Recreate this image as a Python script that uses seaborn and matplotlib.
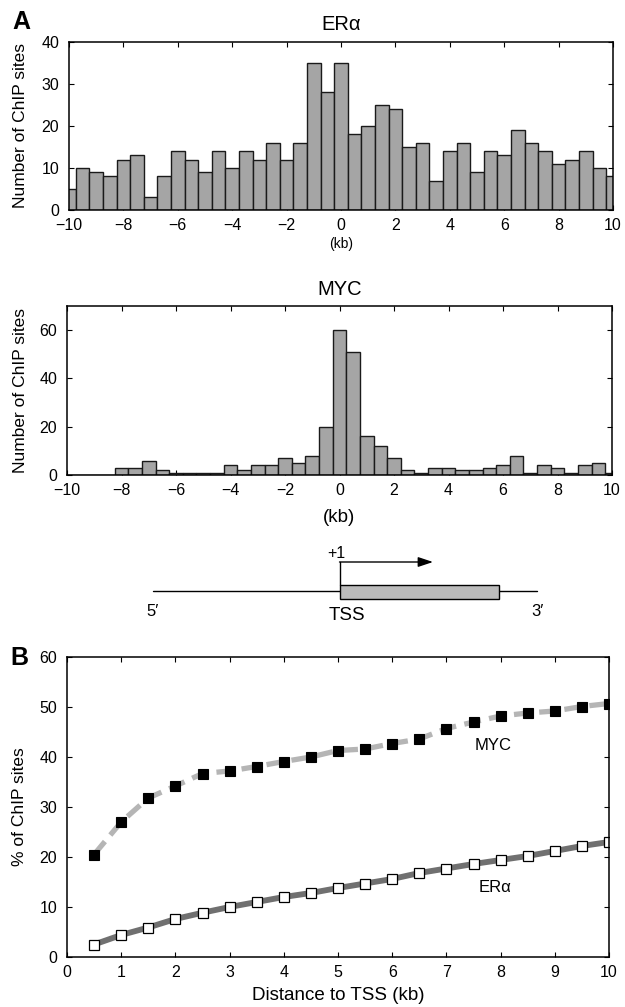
#!/usr/bin/env python3

import numpy as np
import pandas as pd
import seaborn as sns
import matplotlib
matplotlib.use("Agg")
import matplotlib.pyplot as plt
from matplotlib.patches import Rectangle

# histogram bins: 0.5 kb wide, centred on -10 .. 10
bin_centers = np.arange(-10, 10.01, 0.5)
era_counts = [5, 10, 9, 8, 12, 13, 3, 8, 14, 12, 9, 14, 10, 14, 12, 16, 12, 16, 35,
              28, 35, 18, 20, 25, 24, 15, 16, 7, 14, 16, 9, 14, 13, 19, 16, 14, 11,
              12, 14, 10, 8]
myc_counts = [0, 0, 0, 0, 3, 3, 6, 2, 1, 1, 1, 1, 4, 2, 4, 4, 7, 5, 8,
              20, 60, 51, 16, 12, 7, 2, 1, 3, 3, 2, 2, 3, 4, 8, 1, 4, 3,
              1, 4, 5, 1]

# cumulative % of sites within distance of TSS
distance_kb = np.arange(0.5, 10.01, 0.5)
myc_pct = [20.5, 27.0, 31.8, 34.2, 36.7, 37.2, 38.1, 39.1, 40.0, 41.3,
           41.6, 42.7, 43.6, 45.7, 47.0, 48.2, 48.8, 49.2, 50.1, 50.7]
era_pct = [2.5, 4.4, 5.9, 7.6, 8.85, 10.0, 11.0, 12.0, 12.8, 13.8,
           14.7, 15.6, 16.8, 17.7, 18.6, 19.4, 20.2, 21.2, 22.2, 23.0]

W, H = 625, 1007
YLABEL_FS = 12.5
TITLE_FS = 14.5
TICK_FS = 11.5


def px_axes(fig, left, top, right, bottom):
  ''' add axes from pixel box (origin top-left) '''
  return fig.add_axes([left / W, 1 - bottom / H, (right - left) / W, (bottom - top) / H])


def configure_seaborn():
  sns.set_style("ticks")
  plt.rcParams['font.family'] = ['Liberation Sans', 'DejaVu Sans']
  plt.rcParams['text.color'] = 'black'
  plt.rcParams['axes.labelcolor'] = 'black'
  plt.rcParams['axes.linewidth'] = 1.1
  plt.rcParams['xtick.direction'] = 'in'
  plt.rcParams['ytick.direction'] = 'in'
  plt.rcParams['xtick.top'] = True
  plt.rcParams['ytick.right'] = True
  plt.rcParams['xtick.major.size'] = 3.5
  plt.rcParams['ytick.major.size'] = 3.5
  plt.rcParams['xtick.major.pad'] = 6
  plt.rcParams['ytick.major.pad'] = 7
  plt.rcParams['xtick.labelsize'] = TICK_FS
  plt.rcParams['ytick.labelsize'] = TICK_FS
  plt.rcParams['axes.edgecolor'] = 'black'
  plt.rcParams['xtick.color'] = 'black'
  plt.rcParams['ytick.color'] = 'black'


def plot_hist(ax, counts, title, ymax, yticks, xlabel_size, xlabel_y, title_y, ylabel_x):
  df = pd.DataFrame({'kb': bin_centers, 'n': counts})
  edges = [c - 0.25 for c in bin_centers] + [bin_centers[-1] + 0.25]
  sns.histplot(data=df, x='kb', weights='n', bins=edges, ax=ax,
               color='#a5a5a5', edgecolor='#1a1a1a', linewidth=1.0, alpha=1)
  ax.set_xlim(-10, 10)
  ax.set_ylim(0, ymax)
  ax.set_xticks(range(-10, 11, 2))
  ax.set_yticks(yticks)
  ax.set_ylabel("Number of ChIP sites", fontsize=YLABEL_FS, va='center')
  ax.yaxis.set_label_coords(ylabel_x, 0.5)
  ax.set_xlabel("(kb)", fontsize=xlabel_size, va='center')
  ax.xaxis.set_label_coords(0.5, xlabel_y)
  ax.text(0.5, title_y, title, transform=ax.transAxes, ha='center', va='center',
          fontsize=TITLE_FS)


def main():
  configure_seaborn()
  fig = plt.figure(figsize=(W / 100, H / 100), dpi=100)

  ax1 = px_axes(fig, 69, 42, 613, 210)
  plot_hist(ax1, era_counts, "ERα", 40, [0, 10, 20, 30, 40], 10, -0.205, 1.104, -0.089)

  ax2 = px_axes(fig, 67, 306, 612, 475)
  plot_hist(ax2, myc_counts, "MYC", 70, [0, 20, 40, 60], 13.5, -0.254, 1.095, -0.086)

  # TSS schematic
  sk = fig.add_axes([0, 0, 1, 1])
  sk.set_xlim(0, W)
  sk.set_ylim(H, 0)
  sk.axis('off')
  sk.patch.set_alpha(0)
  sk.plot([153, 537], [591, 591], color='black', lw=1.0)
  sk.add_patch(Rectangle((340, 585), 159, 14, facecolor='#bbbbbb',
                         edgecolor='black', lw=1.0, zorder=3))
  sk.plot([340, 340], [585, 562], color='black', lw=1.0)
  sk.annotate("", xy=(433, 562), xytext=(339.5, 562),
              arrowprops=dict(arrowstyle='-|>,head_length=0.9,head_width=0.3',
                              color='black', lw=1.0, shrinkA=0, shrinkB=0))
  sk.text(336, 553, "+1", ha='center', va='center', fontsize=11.5)
  sk.text(153, 612, "5′", ha='center', va='center', fontsize=12)
  sk.text(347, 615, "TSS", ha='center', va='center', fontsize=13.5)
  sk.text(537, 612, "3′", ha='center', va='center', fontsize=12)

  # panel B
  ax3 = px_axes(fig, 67, 657, 609, 957)
  df = pd.DataFrame({'kb': np.concatenate([distance_kb, distance_kb]),
                     'pct': myc_pct + era_pct,
                     'tf': ['MYC'] * len(distance_kb) + ['ERα'] * len(distance_kb)})
  sns.lineplot(data=df[df.tf == 'MYC'], x='kb', y='pct', ax=ax3, color='#b5b5b5',
               lw=3.8, linestyle=(0, (3.2, 1.6)), marker='s', markersize=6.5,
               markerfacecolor='black', markeredgecolor='black', markeredgewidth=0.8)
  sns.lineplot(data=df[df.tf == 'ERα'], x='kb', y='pct', ax=ax3, color='#707070',
               lw=4.2, marker='s', markersize=6.5,
               markerfacecolor='white', markeredgecolor='black', markeredgewidth=0.9)
  ax3.set_xlim(0, 10)
  ax3.set_ylim(0, 60)
  ax3.set_xticks(range(0, 11))
  ax3.set_yticks(range(0, 61, 10))
  ax3.set_xlabel("Distance to TSS (kb)", fontsize=13.5, va='center')
  ax3.xaxis.set_label_coords(0.5, -0.127)
  ax3.set_ylabel("% of ChIP sites", fontsize=YLABEL_FS, va='center')
  ax3.yaxis.set_label_coords(-0.087, 0.5)
  ax3.text(7.86, 42.2, "MYC", ha='center', va='center', fontsize=12)
  ax3.text(7.9, 13.8, "ERα", ha='center', va='center', fontsize=12)

  fig.text(21 / W, 1 - 22 / H, "A", fontsize=18, fontweight='bold', ha='center', va='center')
  fig.text(19.5 / W, 1 - 658 / H, "B", fontsize=18, fontweight='bold', ha='center', va='center')

  fig.savefig("out.png", dpi=100)
  plt.close(fig)


if __name__ == '__main__':
  main()
